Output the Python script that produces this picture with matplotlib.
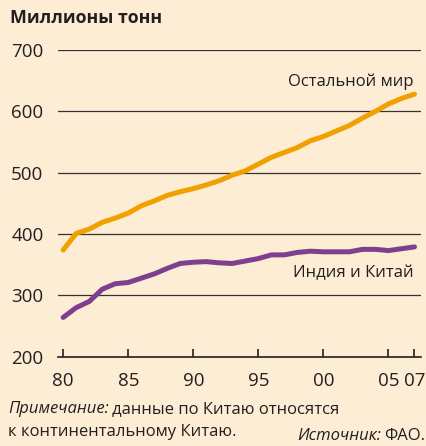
import matplotlib.pyplot as plt

# Production, million tonnes
years = list(range(1980, 2008))
rest_of_world = [374, 401, 408, 419, 426, 434, 446, 454, 463, 469,
                 474, 480, 487, 496, 503, 514, 525, 533, 541, 552,
                 559, 568, 577, 589, 600, 612, 621, 628]
india_china = [264, 280, 290, 310, 319, 321, 328, 335, 344, 352,
               354, 355, 353, 352, 356, 360, 366, 366, 370, 372,
               371, 371, 371, 375, 375, 373, 376, 379]
xticks = [1980, 1985, 1990, 1995, 2000, 2005, 2007]
xtick_labels = ["80", "85", "90", "95", "00", "05", "07"]
yticks = [200, 300, 400, 500, 600, 700]

BG = "#FDEDD5"
ORANGE = "#F0A000"
PURPLE = "#7E3F8F"
TEXT = "#231F20"

plt.rcParams['font.family'] = ['Open Sans', 'DejaVu Sans']

W, H = 427, 446
fig = plt.figure(figsize=(W / 100, H / 100), dpi=100, facecolor=BG)
ax = fig.add_axes([58 / W, 1 - 356.7 / H, (421 - 58) / W, (356.7 - 50) / H])
ax.set_facecolor(BG)

ax.plot(years, rest_of_world, color=ORANGE, lw=3.6, solid_capstyle='round', zorder=3)
ax.plot(years, india_china, color=PURPLE, lw=3.6, solid_capstyle='round', zorder=3)

ax.set_xlim(1979.6, 2007.5)
ax.set_ylim(200, 700)
ax.set_yticks(yticks)
ax.set_xticks(xticks)
ax.set_xticklabels(xtick_labels)

for y in yticks[1:]:
    ax.axhline(y, color="#333333", lw=0.9, zorder=1)

for s in ["top", "right", "left"]:
    ax.spines[s].set_visible(False)
ax.spines["bottom"].set_color(TEXT)
ax.spines["bottom"].set_linewidth(1.2)

ax.tick_params(axis='y', length=0, pad=10.5, labelsize=13.5, labelcolor=TEXT)
ax.tick_params(axis='x', direction='in', length=6, width=1.2, color=TEXT,
               pad=11, labelsize=13.5, labelcolor=TEXT)

ax.text(2006.9, 648, "Остальной мир", ha='right', va='center', fontsize=12, color=TEXT)
ax.text(2006.9, 336, "Индия и Китай", ha='right', va='center', fontsize=12, color=TEXT)

fig.text(10 / W, 1 - 18 / H, "Миллионы тонн", ha='left', va='center',
         fontsize=12.8, fontweight='bold', color=TEXT)

renderer = fig.canvas.get_renderer()

# note: italic lead-in followed by regular text
note_lead = fig.text(8 / W, 1 - 409 / H, "Примечание:", ha='left', va='center',
                     fontsize=12, style='italic', color=TEXT)
lead_w = note_lead.get_window_extent(renderer).width
fig.text((8 + lead_w + 3) / W, 1 - 409 / H, "данные по Китаю относятся", ha='left',
         va='center', fontsize=12, color=TEXT)
fig.text(8 / W, 1 - 432 / H, "к континентальному Китаю.", ha='left', va='center',
         fontsize=12, color=TEXT)

src = fig.text(425 / W, 1 - 436 / H, "ФАО.", ha='right', va='center', fontsize=12,
               color=TEXT)
src_w = src.get_window_extent(renderer).width
fig.text((425 - src_w - 3) / W, 1 - 436 / H, "Источник:", ha='right', va='center',
         fontsize=12, style='italic', color=TEXT)

fig.savefig("out.png", dpi=100, facecolor=BG)
